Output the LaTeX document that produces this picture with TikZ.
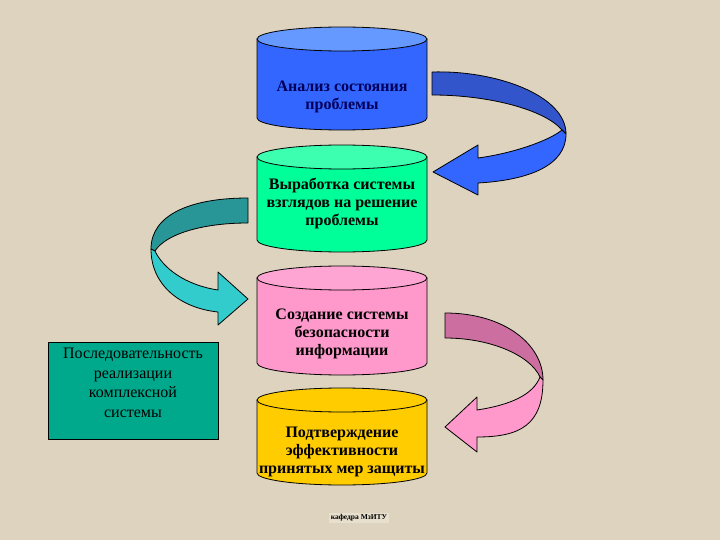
\documentclass[tikz,border=0pt]{standalone}
\usepackage{fontspec}
\setmainfont{Liberation Serif}
\usepackage{tikz}
\usetikzlibrary{positioning,calc}

\definecolor{linen}{RGB}{221,211,191}
\definecolor{cylblue}{RGB}{51,102,255}
\definecolor{cylbluetop}{RGB}{102,153,255}
\definecolor{cylgreen}{RGB}{0,255,153}
\definecolor{cylgreentop}{RGB}{60,255,175}
\definecolor{cylpink}{RGB}{255,153,204}
\definecolor{cylpinktop}{RGB}{255,165,212}
\definecolor{cylyellow}{RGB}{255,204,0}
\definecolor{boxteal}{RGB}{0,168,140}
\definecolor{arrblueback}{RGB}{51,85,204}
\definecolor{arrtealback}{RGB}{40,150,150}
\definecolor{arrtealfront}{RGB}{51,204,204}
\definecolor{arrpinkback}{RGB}{204,110,160}
\definecolor{navytext}{RGB}{0,0,90}
\definecolor{tagfill}{RGB}{232,224,206}

% cylinder: name, centre x, top ellipse y, bottom ellipse y, body colour, top colour
\newcommand{\stagecyl}[6]{%
  \filldraw[cylline, fill=#5] (#2-85,#3) -- (#2-85,#4) arc[start angle=180, end angle=0, x radius=85, y radius=12] -- (#2+85,#3) -- cycle;
  \filldraw[cylline, fill=#6] (#2,#3) ellipse[x radius=85, y radius=12];
  \coordinate (#1) at (#2,{(#3+#4)/2});
}

\begin{document}
\begin{tikzpicture}[x=1pt, y=-1pt,
  cylline/.style={draw=black, line width=0.8pt},
  cyltext/.style={align=center, font=\fontsize{16}{18}\selectfont\bfseries},
  band/.style={draw=black, line width=0.8pt, line join=round}]
% background
\fill[linen] (0,0) rectangle (720,540);
\useasboundingbox (0,0) rectangle (720,540);

% stages
\stagecyl{s1}{342}{39}{118}{cylblue}{cylbluetop}
\stagecyl{s2}{342}{157}{240}{cylgreen}{cylgreentop}
\stagecyl{s3}{342}{278}{363}{cylpink}{cylpinktop}
\stagecyl{s4}{342}{400}{473}{cylyellow}{cylyellow}
\node[cyltext, text=navytext] (t1) at ($(s1)+(0,18)$) {Анализ состояния\\проблемы};
\node[cyltext] (t2) at ($(s2)+(0,5)$) {Выработка системы\\взглядов на решение\\проблемы};
\node[cyltext] (t3) at ($(s3)+(0,13)$) {Создание системы\\безопасности\\информации};
\node[cyltext] (t4) at ($(s4)+(0,15)$) {Подтверждение\\эффективности\\принятых мер защиты};

% side box
\node[draw=black, line width=0.8pt, fill=boxteal, minimum width=170pt, minimum height=97pt] (seq) at (133,391) {};
\node[align=center, font=\fontsize{16}{19.5}\selectfont] (seqtext) at ($(seq)+(0,-8)$) {Последовательность\\реализации\\комплексной\\системы};

% curved arrows
\filldraw[band, fill=arrblueback] (432,72) .. controls (495,70) and (566,95) .. (566,134) -- (562,130) .. controls (545,110) and (490,95) .. (432,95) -- cycle;
\filldraw[band, fill=cylblue] (566,134) .. controls (566,165) and (530,180) .. (478,183) -- (478,195) -- (433,172) -- (478,145) -- (478,158) .. controls (515,153) and (550,140) .. (562,130) -- cycle;

\filldraw[band, fill=arrtealback] (248,198) .. controls (190,198) and (151,215) .. (151,249) -- (155,251) .. controls (165,235) and (200,223) .. (248,223) -- cycle;
\filldraw[band, fill=arrtealfront] (151,249) .. controls (151,285) and (180,308) .. (218,312) -- (218,325) -- (248,299) -- (218,272) -- (218,290) .. controls (185,285) and (163,268) .. (155,251) -- cycle;

\filldraw[band, fill=arrpinkback] (445,313) .. controls (505,313) and (543,345) .. (543,380) -- (540,377) .. controls (530,355) and (490,338) .. (445,338) -- cycle;
\filldraw[band, fill=cylpink] (543,380) .. controls (543,425) and (520,437) .. (477,437) -- (477,452) -- (445,427) -- (477,397) -- (477,410) .. controls (510,405) and (533,395) .. (540,377) -- cycle;

% footer
\node[fill=tagfill, inner sep=2pt, font=\fontsize{7.5}{9}\selectfont\bfseries] (tag) at (359,518) {кафедра МзИТУ};
\end{tikzpicture}
\end{document}
